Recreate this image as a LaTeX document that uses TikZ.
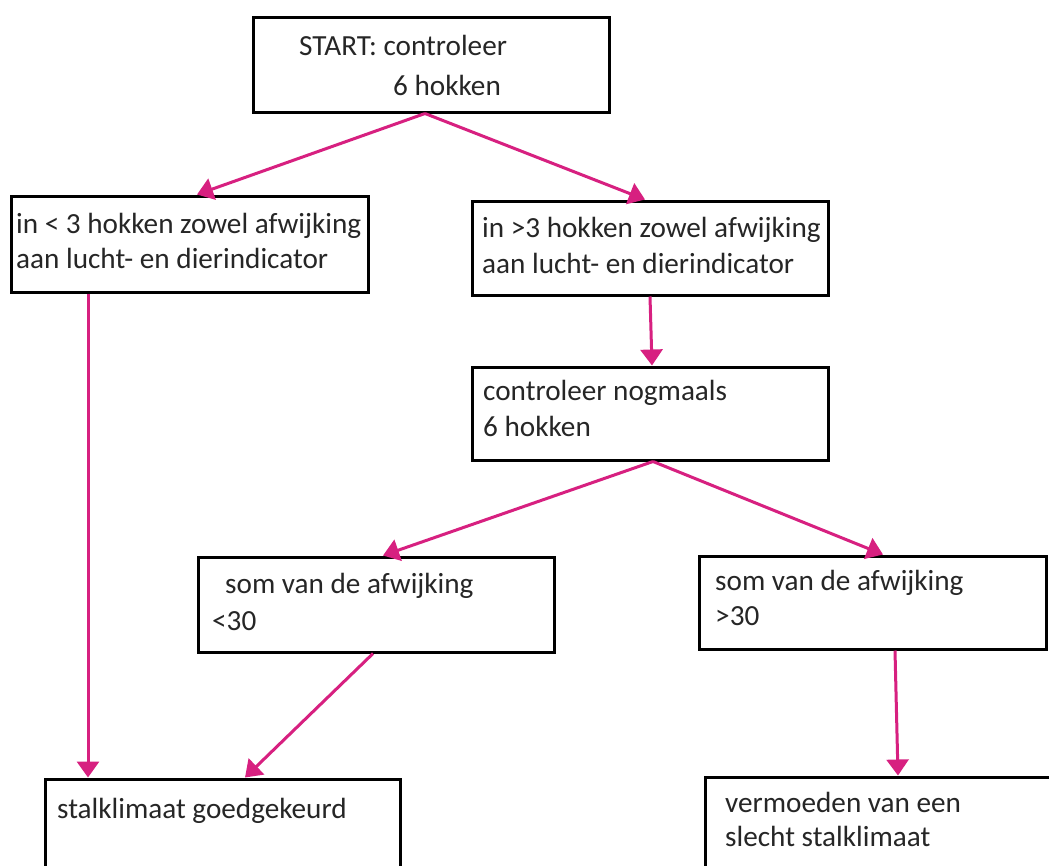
\documentclass[tikz,border=0pt]{standalone}
\usepackage{fontspec}
\setmainfont{Carlito}
\usetikzlibrary{arrows.meta}
\definecolor{arrowpink}{RGB}{215,32,128}
\definecolor{txt}{RGB}{38,38,38}
\tikzset{
  box/.style={draw=black, line width=3pt, rectangle, inner sep=0pt, fill=none},
  lbl/.style={anchor=base west, inner sep=0pt, text=txt, font=\fontsize{29.2}{35}\selectfont},
  conn/.style={draw=arrowpink, line width=3pt, -{Triangle[length=16pt, width=22pt]}}
}
\begin{document}
\begin{tikzpicture}[x=1pt, y=-1pt]
\clip (0,0) rectangle (1049,865);
\fill[white] (0,0) rectangle (1049,865);
% boxes
\node[box, minimum width=356pt, minimum height=95pt] (b1) at (431,64.5) {};
\node[box, minimum width=357pt, minimum height=96pt] (b2) at (189.5,244) {};
\node[box, minimum width=356pt, minimum height=94pt] (b3) at (650,248) {};
\node[box, minimum width=356pt, minimum height=93pt] (b4) at (650,413.5) {};
\node[box, minimum width=356pt, minimum height=95pt] (b5) at (376,604.5) {};
\node[box, minimum width=347pt, minimum height=93pt] (b6) at (872.5,602.5) {};
\node[box, minimum width=356pt, minimum height=95pt] (b7) at (883,824.5) {};
\node[box, minimum width=355pt, minimum height=95pt] (b8) at (222.5,826.5) {};
% texts
\node[lbl] (t1a) at (299,55) {START: controleer};
\node[lbl] (t1b) at (393,95) {6 hokken};
\node[lbl] (t2a) at (16,233) {in < 3 hokken zowel afwijking};
\node[lbl] (t2b) at (16,268) {aan lucht- en dierindicator};
\node[lbl] (t3a) at (482,237) {in >3 hokken zowel afwijking};
\node[lbl] (t3b) at (482,273) {aan lucht- en dierindicator};
\node[lbl] (t4a) at (483,400) {controleer nogmaals};
\node[lbl] (t4b) at (483,436) {6 hokken};
\node[lbl] (t5a) at (225,593) {som van de afwijking};
\node[lbl] (t5b) at (212,630) {<30};
\node[lbl] (t6a) at (715,590) {som van de afwijking};
\node[lbl] (t6b) at (715,625) {>30};
\node[lbl] (t7a) at (725,812) {vermoeden van een};
\node[lbl] (t7b) at (725,846) {slecht stalklimaat};
\node[lbl] (t8a) at (57,818) {stalklimaat goedgekeurd};
% connectors
\draw[conn] ([xshift=-6pt]b1.south) -- ([xshift=7.5pt]b2.north);
\draw[conn] ([xshift=-6pt]b1.south) -- ([xshift=-5pt]b3.north);
\draw[conn] ([xshift=-101.5pt]b2.south) -- ([xshift=-134.5pt]b8.north);
\draw[conn] (b3.south) -- ([xshift=2pt]b4.north);
\draw[conn] ([xshift=3pt]b4.south) -- ([xshift=7pt]b5.north);
\draw[conn] ([xshift=3pt]b4.south) -- ([xshift=10.5pt]b6.north);
\draw[conn] ([xshift=-3pt]b5.south) -- ([xshift=22.5pt]b8.north);
\draw[conn] ([xshift=22.5pt]b6.south) -- ([xshift=15pt]b7.north);
\end{tikzpicture}
\end{document}
